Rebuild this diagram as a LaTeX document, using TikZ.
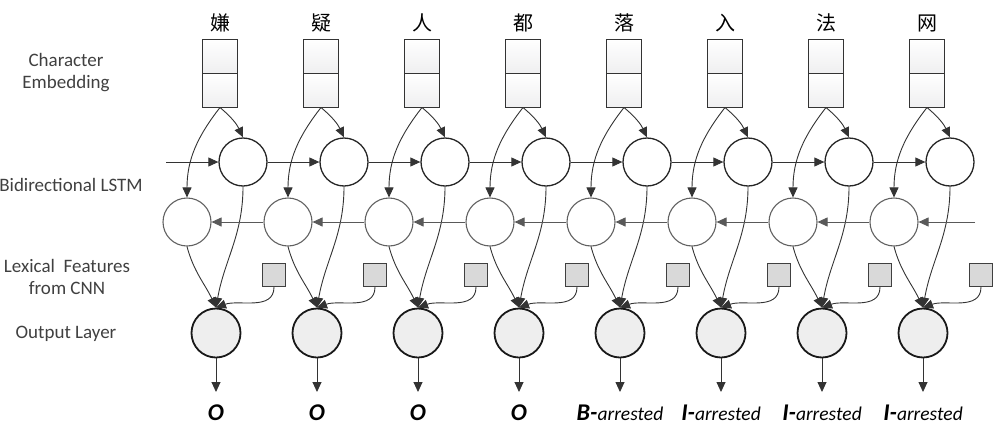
\documentclass[tikz,border=0pt]{standalone}
\usepackage{fontspec}
\setmainfont{Carlito}
\newfontfamily\cjk{Noto Sans CJK SC}
\usetikzlibrary{arrows.meta}
\begin{document}
\begin{tikzpicture}[x=1pt,y=-1pt,
  conn/.style={draw=black!80, line width=0.9pt, -{Triangle[length=10pt,width=9pt]}},
  bconn/.style={draw=black!65, line width=0.9pt, -{Triangle[length=10pt,width=9pt]}},
  embbox/.style={draw=black!80, line width=1pt, minimum width=35pt, minimum height=34pt, inner sep=0pt, top color=white, bottom color=blue!4!gray!12},
  fwd/.style={circle, draw=black!85, line width=1.3pt, minimum size=48pt, inner sep=0pt, fill=white},
  bwd/.style={circle, draw=black!62, line width=1.1pt, minimum size=48pt, inner sep=0pt, fill=white},
  lex/.style={draw=black!75, line width=1.1pt, fill=gray!30, minimum size=23pt, inner sep=0pt},
  outc/.style={circle, draw=black!90, line width=1.8pt, fill=gray!13, minimum size=49pt, inner sep=0pt},
  sidelab/.style={text=black!75, font=\fontsize{19}{22}\selectfont, align=center, inner sep=0pt},
  chlab/.style={font=\cjk\fontsize{20}{22}\selectfont, inner sep=0pt},
  taglab/.style={anchor=base, inner sep=0pt}
]
\useasboundingbox (0,0) rectangle (996,426);

% side labels
\node[sidelab] (lchar) at (66,73) {Character\\Embedding};
\node[sidelab] (llstm) at (71,185) {Bidirectional LSTM};
\node[sidelab] (llex) at (67,277) {Lexical\ \ Features\\from CNN};
\node[sidelab] (lout) at (66,334) {Output Layer};

\newcommand{\bigB}[1]{{\fontsize{24}{26}\selectfont\bfseries\itshape #1}}
\newcommand{\smA}{{\fontsize{19.5}{22}\selectfont\itshape arrested}}

\foreach \i/\ch/\tg in {1/嫌/{\bigB{O}},2/疑/{\bigB{O}},3/人/{\bigB{O}},4/都/{\bigB{O}},
  5/落/{\bigB{B-}\smA},6/入/{\bigB{I-}\smA},7/法/{\bigB{I-}\smA},8/网/{\bigB{I-}\smA}}{
  \pgfmathsetmacro{\c}{220+101*(\i-1)}
  \node[chlab] (ch\i) at (\c,23) {\ch};
  \node[embbox] (et\i) at (\c,56) {};
  \node[embbox] (e\i) at (\c,90) {};
  \node[fwd] (f\i) at (\c+23,162) {};
  \node[bwd] (b\i) at (\c-33,222) {};
  \node[lex] (s\i) at (\c+54,275) {};
  \node[outc] (o\i) at (\c-4,333) {};
  \coordinate (y\i) at (\c-4,392);
  \node[taglab] (t\i) at (\c-4,420) {\tg};
  \draw[conn] (e\i.south) to[out=-40,in=115] (f\i.north);
  \draw[conn] (e\i.south) to[out=-128,in=90] (b\i.north);
  \draw[conn] (f\i.south) to[out=-90,in=80] (o\i.north);
  \draw[conn] (b\i.south) to[out=-75,in=115] (o\i.north);
  \draw[conn] (s\i.south) to[out=-90,in=20] (o\i.north);
  \draw[conn] (o\i.south) -- (y\i);
}

% forward chain
\coordinate (fstart) at (166,162);
\draw[conn] (fstart) -- (f1.west);
\foreach \i [evaluate=\i as \j using int(\i+1)] in {1,...,7}{
  \draw[conn] (f\i.east) -- (f\j.west);
}
% backward chain
\coordinate (bstart) at (975,222);
\draw[bconn] (bstart) -- (b8.east);
\foreach \i [evaluate=\i as \j using int(\i+1)] in {1,...,7}{
  \draw[bconn] (b\j.west) -- (b\i.east);
}
\end{tikzpicture}
\end{document}
